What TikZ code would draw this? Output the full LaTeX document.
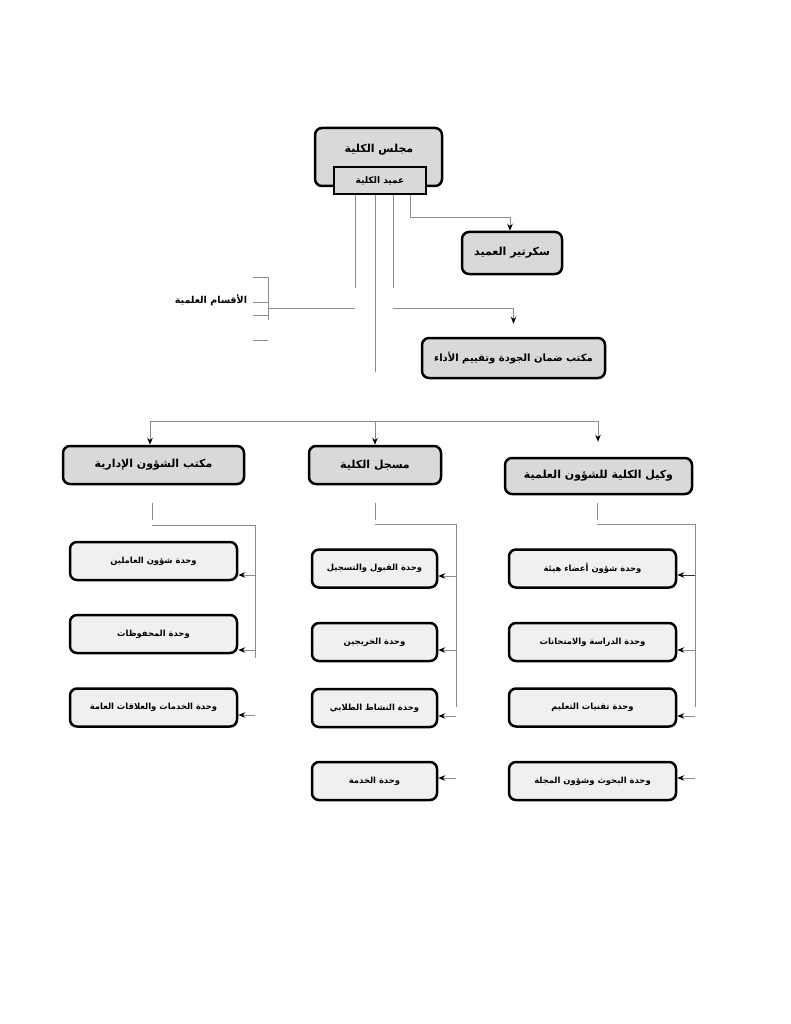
\documentclass[tikz,border=0pt]{standalone}
\usepackage{fontspec}
\usetikzlibrary{arrows.meta}
\newfontfamily\arabicfont[Script=Arabic]{DejaVu Sans}
\TeXXeTstate=1
\definecolor{mainfill}{HTML}{D9D9D9}
\definecolor{subfill}{HTML}{F0F0F0}
\definecolor{linegray}{HTML}{8C8C8C}
\begin{document}
\begin{tikzpicture}[x=1pt,y=-1pt,
 mainbox/.style={draw=black, line width=2.5pt, rounded corners=7pt, fill=mainfill, inner sep=0pt, font=\arabicfont\bfseries\fontsize{11}{13}\selectfont},
 subbox/.style={draw=black, line width=2.5pt, rounded corners=7pt, fill=subfill, inner sep=0pt, minimum height=38pt, font=\arabicfont\bfseries\fontsize{8.4}{10}\selectfont},
 conn/.style={draw=linegray, line width=0.9pt},
 arr/.style={conn, -{Stealth[length=7pt,width=5.5pt,black]}},
 lbl/.style={inner sep=0pt, font=\arabicfont\bfseries\fontsize{9.5}{11}\selectfont}
]
\useasboundingbox (0,0) rectangle (791,1024);

% top boxes
\node[mainbox, minimum width=127pt, minimum height=58pt] (council) at (378.5,157) {};
\node[inner sep=0pt, font=\arabicfont\bfseries\fontsize{11}{13}\selectfont] (councilText) at (379,150) {\beginR مجلس الكلية\endR};
\node[mainbox, sharp corners, minimum width=92pt, minimum height=27pt, font=\arabicfont\bfseries\fontsize{9}{11}\selectfont] (dean) at (380,180.5) {\beginR عميد الكلية\endR};
\node[mainbox, minimum width=100pt, minimum height=42pt] (secretary) at (512,253) {\beginR سكرتير العميد\endR};
\node[mainbox, minimum width=183pt, minimum height=40pt, font=\arabicfont\bfseries\fontsize{10}{12}\selectfont] (quality) at (513.5,358) {\beginR مكتب ضمان الجودة وتقييم الأداء\endR};
\node[lbl] (depts) at (211,300) {\beginR الأقسام العلمية\endR};

% second level
\node[mainbox, minimum width=181pt, minimum height=38pt] (admin) at (153.5,465) {\beginR مكتب الشؤون الإدارية\endR};
\node[mainbox, minimum width=132pt, minimum height=38pt] (registrar) at (375,465) {\beginR مسجل الكلية\endR};
\node[mainbox, minimum width=187pt, minimum height=36pt] (vice) at (598.5,476) {\beginR وكيل الكلية للشؤون العلمية\endR};

% admin units
\node[subbox, minimum width=167pt] (a1) at (153.5,561) {\beginR وحدة شؤون العاملين\endR};
\node[subbox, minimum width=167pt] (a2) at (153.5,634) {\beginR وحدة المحفوظات\endR};
\node[subbox, minimum width=167pt] (a3) at (153.5,707.5) {\beginR وحدة الخدمات والعلاقات العامة\endR};

% registrar units
\node[subbox, minimum width=125pt] (r1) at (374.5,568.5) {\beginR وحدة القبول والتسجيل\endR};
\node[subbox, minimum width=125pt] (r2) at (374.5,642) {\beginR وحدة الخريجين\endR};
\node[subbox, minimum width=125pt] (r3) at (374.5,708) {\beginR وحدة النشاط الطلابي\endR};
\node[subbox, minimum width=125pt] (r4) at (374.5,781) {\beginR وحدة الخدمة\endR};

% vice dean units
\node[subbox, minimum width=167pt] (v1) at (592.5,568.5) {\beginR وحدة شؤون أعضاء هيئة\endR};
\node[subbox, minimum width=167pt] (v2) at (592.5,642) {\beginR وحدة الدراسة والامتحانات\endR};
\node[subbox, minimum width=167pt] (v3) at (592.5,707.5) {\beginR وحدة تقنيات التعليم\endR};
\node[subbox, minimum width=167pt] (v4) at (592.5,781) {\beginR وحدة البحوث وشؤون المجلة\endR};

% lines from the dean
\coordinate (l1) at (355,288);
\coordinate (l2) at (375,372);
\coordinate (l3) at (393,288);
\coordinate (s0) at (410,217);
\draw[conn] (dean.south -| l1) -- (l1);
\draw[conn] (dean.south -| l2) -- (l2);
\draw[conn] (dean.south -| l3) -- (l3);
\draw[arr] (dean.south -| s0) -- (s0) -| ([xshift=-2pt]secretary.north);

% quality office
\coordinate (q0) at (393,308);
\draw[arr] (q0) -| ([yshift=13pt]quality.north);

% departments bracket
\coordinate (dp) at (268,308);
\coordinate (dq) at (355,308);
\draw[conn] (dp) -- (dq);
\draw[conn] (268,277) -- (268,320);
\draw[conn] (253,277) -- (268,277);
\draw[conn] (253,302) -- (268,302);
\draw[conn] (253,315) -- (268,315);
\draw[conn] (253,340) -- (268,340);

% distribution
\coordinate (h1) at (150,421);
\coordinate (h2) at (598,421);
\coordinate (hm) at (375,421);
\draw[conn] (h1) -- (h2);
\draw[arr] (h1) -- (h1 |- admin.north);
\draw[arr] (hm) -- (registrar.north);
\draw[arr] (h2) -- ([yshift=15pt]h2 |- vice.north);

% admin subtree
\coordinate (ta) at (152,503);
\coordinate (ua) at (152,525);
\coordinate (va) at (255,525);
\coordinate (wa) at (255,658);
\draw[conn] (ta) -- (152,520);
\draw[conn] (ua) -- (va) -- (wa);
\draw[arr] (255,575) -- (a1.east |- 255,575);
\draw[arr] (255,650) -- (a2.east |- 255,650);
\draw[arr] (255,715) -- (a3.east |- 255,715);

% registrar subtree
\coordinate (tr) at (375,503);
\coordinate (ur) at (375,524);
\coordinate (vr) at (456,524);
\coordinate (wr) at (456,707);
\draw[conn] (tr) -- (375,520);
\draw[conn] (ur) -- (vr) -- (wr);
\draw[arr] (456,576) -- (r1.east |- 456,576);
\draw[arr] (456,650) -- (r2.east |- 456,650);
\draw[arr] (456,716) -- (r3.east |- 456,716);
\draw[arr] (456,778) -- (r4.east |- 456,778);

% vice subtree
\coordinate (tv) at (597,503);
\coordinate (uv) at (597,524);
\coordinate (vv) at (695,524);
\coordinate (wv) at (695,707);
\draw[conn] (tv) -- (597,520);
\draw[conn] (uv) -- (vv) -- (wv);
\draw[arr, draw=black!80] (695,575) -- (v1.east |- 695,575);
\draw[arr] (695,650) -- (v2.east |- 695,650);
\draw[arr] (695,716) -- (v3.east |- 695,716);
\draw[arr] (695,778) -- (v4.east |- 695,778);
\end{tikzpicture}
\end{document}
